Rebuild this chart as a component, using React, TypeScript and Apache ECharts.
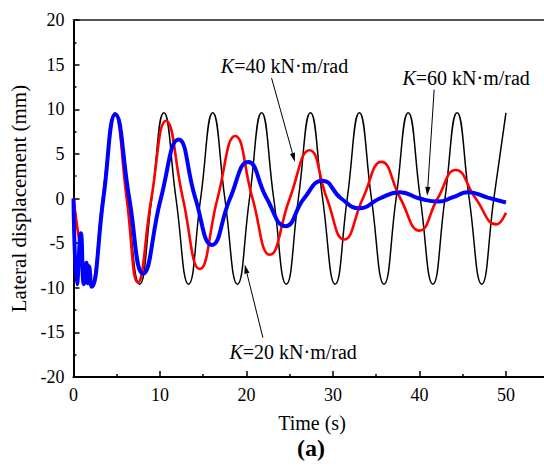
import React, { useEffect, useRef } from "react";
import * as echarts from "echarts";

// K = 20 kN·m/rad (black)
const tBlack = [0, 2.0, 3.4, 4.8, 6.2, 7.65, 9.05, 10.45, 11.85, 13.3, 14.7, 16.1, 17.5, 18.95, 20.35, 21.75, 23.15, 24.6, 26.0, 27.4, 28.8, 30.25, 31.65, 33.05, 34.45, 35.9, 37.3, 38.7, 40.1, 41.55, 42.95, 44.35, 45.75, 47.2, 48.6, 50.0];
const yBlack = [0, -9.6, 0, 9.6, 0, -9.6, 0, 9.6, 0, -9.6, 0, 9.6, 0, -9.6, 0, 9.6, 0, -9.6, 0, 9.6, 0, -9.6, 0, 9.6, 0, -9.6, 0, 9.6, 0, -9.6, 0, 9.6, 0, -9.6, 0, 9.6];

// K = 40 kN·m/rad (red)
const tRed = [0, 2.0, 3.4, 4.8, 6.15, 7.45, 9.0, 10.7, 12.65, 14.6, 16.65, 18.7, 20.7, 22.7, 25.0, 27.3, 29.3, 31.3, 33.45, 35.6, 37.8, 40.0, 42.1, 44.2, 46.5, 48.9, 50.0];
const yRed = [0, -9.6, 0, 9.5, 0, -9.4, 0, 8.7, 0, -7.9, 0, 7.0, 0, -6.3, 0, 5.4, 0, -4.6, 0, 4.1, 0, -3.6, 0, 3.2, 0, -2.9, -1.6];

// K = 60 kN·m/rad (blue)
const tBlue = [0, 0.4, 0.85, 1.2, 1.5, 1.65, 1.8, 2.1, 3.45, 4.85, 6.45, 8.05, 10.1, 12.15, 14.1, 16.0, 18.1, 20.2, 22.35, 24.5, 26.65, 28.8, 30.95, 33.1, 35.4, 37.75, 40.0, 42.2, 43.9, 45.6, 47.9, 50.0];
const yBlue = [0, -9.6, -3.9, -9.6, -7.2, -9.5, -7.6, -9.9, 0, 9.4, 0, -8.4, 0, 6.6, 0, -5.2, 0, 4.1, 0, -3.1, 0, 2.0, 0, -1.1, 0, 0.7, 0, -0.35, 0.15, 0.7, 0.1, -0.45];

// axis ticks
const xMajorTicks = [0, 10, 20, 30, 40, 50];
const xMinorTicks = [5, 15, 25, 35, 45];
const xVisibleMax = 54.4; // the figure is cropped just past t = 54

// annotations (data coordinates)
const annStiffness = ["40", "60", "20"];
const annTextPos = [[24.4, 14.9], [45.4, 13.5], [25.4, -17.2]];
const annArrowFrom = [[22.9, 13.5], [41.7, 12.2], [21.9, -15.6]];
const annArrowTo = [[25.6, 4.1], [40.9, 0.3], [19.8, -7.4]];

const FONT = "'Liberation Serif', 'Times New Roman', serif";

const zip = (t: number[], y: number[]) => t.map((v, i) => [v, y[i]]);

export default function App() {
  const ref = useRef<HTMLDivElement>(null);
  useEffect(() => {
    document.body.style.margin = "0";
    const chart = echarts.init(ref.current as HTMLDivElement, null, { renderer: "svg" });
    const axisLabel = { color: "#000", fontFamily: FONT, fontSize: 18 };
    const option: any = {
      animation: false,
      backgroundColor: "#fff",
      grid: { left: 73.5, right: 0, top: 20, bottom: 91, containLabel: false },
      xAxis: [
        {
          type: "value",
          min: 0,
          max: xVisibleMax,
          axisLine: { show: true, onZero: false, lineStyle: { color: "#000", width: 2 } },
          axisTick: { show: true, inside: true, length: 6, customValues: xMajorTicks, lineStyle: { color: "#000", width: 1.5 } },
          splitLine: { show: false },
          axisLabel: { ...axisLabel, margin: 9, customValues: xMajorTicks },
        },
        {
          type: "value",
          position: "bottom",
          min: 0,
          max: xVisibleMax,
          axisLine: { show: false, onZero: false },
          axisTick: { show: true, inside: true, length: 3, customValues: xMinorTicks, lineStyle: { color: "#000", width: 1.5 } },
          axisLabel: { show: false },
          splitLine: { show: false },
        },
        {
          type: "value",
          position: "top",
          min: 0,
          max: xVisibleMax,
          axisLine: { show: true, onZero: false, lineStyle: { color: "#555", width: 2 } },
          axisTick: { show: false },
          axisLabel: { show: false },
          splitLine: { show: false },
        },
      ],
      yAxis: {
        type: "value",
        min: -20,
        max: 20,
        interval: 5,
        name: "Lateral displacement (mm)",
        nameLocation: "middle",
        nameGap: 44,
        nameTextStyle: { color: "#000", fontFamily: FONT, fontSize: 21 },
        axisLine: { show: true, onZero: false, lineStyle: { color: "#000", width: 2 } },
        axisTick: { show: true, inside: true, length: 6, lineStyle: { color: "#000", width: 1.5 } },
        minorTick: { show: true, splitNumber: 2, length: 3, lineStyle: { color: "#000", width: 1.5 } },
        splitLine: { show: false },
        axisLabel: { ...axisLabel, margin: 9 },
      },
      series: [
        {
          type: "line",
          data: zip(tBlack, yBlack),
          smooth: 0.5,
          symbol: "none",
          lineStyle: { color: "#000", width: 1.5 },
          z: 2,
        },
        {
          type: "line",
          data: zip(tRed, yRed),
          smooth: 0.5,
          symbol: "none",
          lineStyle: { color: "#ff0000", width: 2.6 },
          z: 3,
        },
        {
          type: "line",
          data: zip(tBlue, yBlue),
          smooth: 0.5,
          symbol: "none",
          lineStyle: { color: "#0000ff", width: 4 },
          z: 4,
        },
      ],
    };
    chart.setOption(option);

    const toPx = (p: number[]) => chart.convertToPixel({ seriesIndex: 0 }, p) as number[];
    const graphics: any[] = [];
    annStiffness.forEach((k, i) => {
      const tp = toPx(annTextPos[i]);
      const a = toPx(annArrowFrom[i]);
      const b = toPx(annArrowTo[i]);
      const dx = b[0] - a[0];
      const dy = b[1] - a[1];
      const len = Math.sqrt(dx * dx + dy * dy);
      const ux = dx / len;
      const uy = dy / len;
      const L = 9;
      const W = 2.6;
      const bx = b[0] - ux * L;
      const by = b[1] - uy * L;
      graphics.push({
        type: "text",
        x: tp[0],
        y: tp[1],
        z: 10,
        style: {
          text: "{i|K}{n|=" + k + " kN·m/rad}",
          align: "center",
          verticalAlign: "middle",
          fill: "#000",
          fontFamily: FONT,
          fontSize: 20,
          rich: {
            i: { fontStyle: "italic", fontFamily: FONT, fontSize: 20, fill: "#000" },
            n: { fontFamily: FONT, fontSize: 20, fill: "#000" },
          },
        },
      });
      graphics.push({
        type: "line",
        z: 10,
        shape: { x1: a[0], y1: a[1], x2: bx, y2: by },
        style: { stroke: "#000", lineWidth: 1 },
      });
      graphics.push({
        type: "polygon",
        z: 10,
        shape: {
          points: [
            [b[0], b[1]],
            [bx - uy * W, by + ux * W],
            [bx + uy * W, by - ux * W],
          ],
        },
        style: { fill: "#000" },
      });
    });
    graphics.push({
      type: "text",
      x: 312,
      y: 423,
      style: { text: "Time (s)", align: "center", verticalAlign: "middle", fill: "#000", fontFamily: FONT, fontSize: 20 },
    });
    graphics.push({
      type: "text",
      x: 311,
      y: 448,
      style: { text: "(a)", align: "center", verticalAlign: "middle", fill: "#000", fontFamily: FONT, fontSize: 24, fontWeight: "bold" },
    });
    chart.setOption({ graphic: graphics });
    return () => chart.dispose();
  }, []);
  return <div ref={ref} style={{ width: 544, height: 468 }} />;
}
